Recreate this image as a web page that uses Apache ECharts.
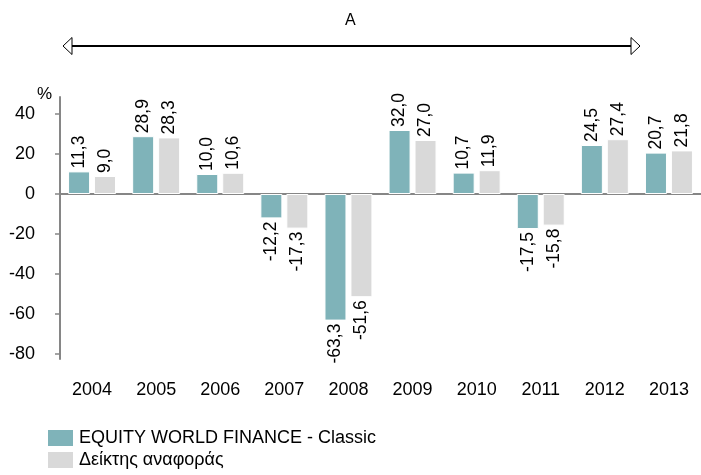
<!DOCTYPE html>
<html>
<head>
<meta charset="utf-8">
<script src="https://cdn.jsdelivr.net/npm/echarts@6/dist/echarts.min.js"></script>
<style>
html,body{margin:0;padding:0;background:#fff;}
#c{width:701px;height:475px;}
</style>
</head>
<body>
<div id="c"></div>
<script>
var years = ['2004','2005','2006','2007','2008','2009','2010','2011','2012','2013'];
var fundValues = [11.3, 28.9, 10.0, -12.2, -63.3, 32.0, 10.7, -17.5, 24.5, 20.7];
var indexValues = [9.0, 28.3, 10.6, -17.3, -51.6, 27.0, 11.9, -15.8, 27.4, 21.8];
var yTicks = [-80, -60, -40, -20, 0, 20, 40];
var seriesNames = ['EQUITY WORLD FINANCE - Classic', 'Δείκτης αναφοράς'];
var periodLabel = 'A';

var FONT = '"Liberation Sans", Arial, sans-serif';
var chart = echarts.init(document.getElementById('c'));

function items(arr) {
  return arr.map(function (v) {
    var pos = v >= 0;
    return {
      value: v,
      label: {
        position: pos ? 'top' : 'bottom',
        align: pos ? 'left' : 'right'
      }
    };
  });
}

var labelCfg = {
  show: true,
  rotate: 90,
  verticalAlign: 'middle',
  distance: 3,
  fontSize: 17.5,
  fontFamily: FONT,
  color: '#000',
  formatter: function (p) { return p.value.toFixed(1).replace('.', ','); }
};

chart.setOption({
  animation: false,
  textStyle: { fontFamily: FONT },
  grid: { left: 60, top: 97, width: 648, height: 262, containLabel: false },
  legend: {
    orient: 'vertical',
    left: 46,
    top: 428,
    padding: 0,
    itemGap: 2,
    itemWidth: 27,
    itemHeight: 18,
    icon: 'rect',
    selectedMode: false,
    textStyle: { fontSize: 18, color: '#000', fontFamily: FONT },
    data: seriesNames
  },
  xAxis: [
    {
      type: 'category',
      data: years,
      position: 'bottom',
      axisLine: { show: false, onZero: false },
      axisTick: { show: false },
      axisLabel: { margin: 22, fontSize: 18, color: '#000', fontFamily: FONT },
      splitLine: { show: false }
    },
    {
      type: 'category',
      data: years,
      position: 'bottom',
      axisLine: { show: true, onZero: true, lineStyle: { color: '#868686', width: 2 } },
      axisTick: { show: false },
      axisLabel: { show: false },
      splitLine: { show: false }
    }
  ],
  yAxis: {
    type: 'value',
    min: -82.5,
    max: 48.5,
    axisLine: { show: true, lineStyle: { color: '#868686', width: 2 } },
    axisTick: { show: true, customValues: yTicks, length: 5, lineStyle: { color: '#868686', width: 1.5 } },
    axisLabel: { customValues: yTicks, margin: 25, fontSize: 18, color: '#000', fontFamily: FONT },
    splitLine: { show: false }
  },
  graphic: [
    { type: 'text', left: 37, top: 86, style: { text: '%', fontSize: 17, fontFamily: FONT, fill: '#000' } },
    { type: 'text', left: 345, top: 13, style: { text: periodLabel, fontSize: 16, fontFamily: FONT, fill: '#000' } },
    { type: 'line', shape: { x1: 72, y1: 46, x2: 631, y2: 46 }, style: { stroke: '#000', lineWidth: 2 } },
    { type: 'polygon', shape: { points: [[63, 46], [72, 37.5], [72, 54.5]] }, style: { fill: '#fff', stroke: '#000', lineWidth: 1 } },
    { type: 'polygon', shape: { points: [[640, 46], [631, 37.5], [631, 54.5]] }, style: { fill: '#fff', stroke: '#000', lineWidth: 1 } }
  ],
  series: [
    {
      name: seriesNames[0],
      type: 'bar',
      xAxisIndex: 0,
      barWidth: 22,
      barGap: '18%',
      itemStyle: { color: '#7fb3b9', borderColor: '#ffffff', borderWidth: 1 },
      label: labelCfg,
      data: items(fundValues)
    },
    {
      name: seriesNames[1],
      type: 'bar',
      xAxisIndex: 0,
      barWidth: 22,
      barGap: '18%',
      itemStyle: { color: '#d9d9d9', borderColor: '#ffffff', borderWidth: 1 },
      label: labelCfg,
      data: items(indexValues)
    }
  ]
});
</script>
</body>
</html>
